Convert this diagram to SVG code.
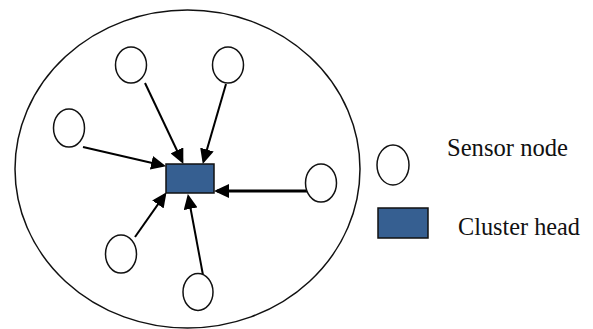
<svg xmlns="http://www.w3.org/2000/svg" width="593" height="329" viewBox="0 0 593 329">
<style>
.node{fill:#fff;stroke:#111;stroke-width:1.5}
.ch{fill:#365f91;stroke:#111;stroke-width:1.5}
.arr{stroke:#000;stroke-width:2;fill:none;marker-end:url(#ah)}
.lbl{font-family:"Liberation Serif","Times New Roman",serif;font-size:26px;fill:#111}
</style>
<defs>
<marker id="ah" markerUnits="userSpaceOnUse" markerWidth="16" markerHeight="14" viewBox="0 0 16 14" refX="12" refY="7" orient="auto">
<path d="M0,0 L15,7 L0,14 Z" fill="#000"/>
</marker>
</defs>
<rect width="593" height="329" fill="#fff"/>
<g id="cluster">
<ellipse cx="187.5" cy="169" rx="172.5" ry="159" fill="none" stroke="#111" stroke-width="1.5"/>
</g>
<g id="connectors">
<line class="arr" x1="145" y1="83" x2="182.1" y2="161.2"/>
<line class="arr" x1="226" y1="84" x2="203.6" y2="161.1"/>
<line class="arr" x1="83" y1="147" x2="163.1" y2="165.5"/>
<line class="arr" x1="307" y1="191" x2="217" y2="191" style="stroke-width:3"/>
<line class="arr" x1="135" y1="237" x2="164.8" y2="194.6"/>
<line class="arr" x1="203" y1="275" x2="188.4" y2="197"/>
</g>
<g id="n1"><ellipse class="node" cx="131" cy="65" rx="15.5" ry="18"/></g>
<g id="n2"><ellipse class="node" cx="228" cy="65" rx="15.5" ry="18"/></g>
<g id="n3"><ellipse class="node" cx="69" cy="128" rx="15.5" ry="19"/></g>
<g id="n4"><ellipse class="node" cx="321" cy="183" rx="15.5" ry="19"/></g>
<g id="n5"><ellipse class="node" cx="121" cy="254" rx="15.5" ry="19"/></g>
<g id="n6"><ellipse class="node" cx="198" cy="292" rx="15" ry="18.5"/></g>
<g id="head"><rect class="ch" x="166" y="164" width="48" height="29"/></g>
<g id="legend-sensor">
<ellipse class="node" cx="393" cy="165" rx="16" ry="20"/>
<text class="lbl" x="447" y="156" textLength="121" lengthAdjust="spacingAndGlyphs">Sensor node</text>
</g>
<g id="legend-head">
<rect class="ch" x="378" y="208" width="50" height="30"/>
<text class="lbl" x="458" y="235" textLength="122" lengthAdjust="spacingAndGlyphs">Cluster head</text>
</g>
</svg>
